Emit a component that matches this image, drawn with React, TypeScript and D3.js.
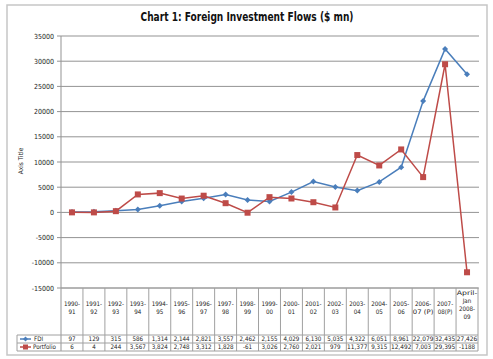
import React from "react";
import * as d3 from "d3";

const categories: string[][] = [
  ["1990-", "91"], ["1991-", "92"], ["1992-", "93"], ["1993-", "94"], ["1994-", "95"],
  ["1995-", "96"], ["1996-", "97"], ["1997-", "98"], ["1998-", "99"], ["1999-", "00"],
  ["2000-", "01"], ["2001-", "02"], ["2002-", "03"], ["2003-", "04"], ["2004-", "05"],
  ["2005-", "06"], ["2006-", "07 (P)"], ["2007-", "08(P)"], ["April-", "Jan", "2008-", "09"],
];
const fdi = [97, 129, 315, 586, 1314, 2144, 2821, 3557, 2462, 2155, 4029, 6130, 5035, 4322, 6051, 8961, 22079, 32435, 27426];
const portfolio = [6, 4, 244, 3567, 3824, 2748, 3312, 1828, -61, 3026, 2760, 2021, 979, 11377, 9315, 12492, 7003, 29395, -11880];
const fdiLabels = ["97", "129", "315", "586", "1,314", "2,144", "2,821", "3,557", "2,462", "2,155", "4,029", "6,130", "5,035", "4,322", "6,051", "8,961", "22,079", "32,435", "27,426"];
const portfolioLabels = ["6", "4", "244", "3,567", "3,824", "2,748", "3,312", "1,828", "-61", "3,026", "2,760", "2,021", "979", "11,377", "9,315", "12,492", "7,003", "29,395", "-1188"];
const yTicks = [-15000, -10000, -5000, 0, 5000, 10000, 15000, 20000, 25000, 30000, 35000];

const W = 493, H = 359;
const L = 61, R = 478, T = 36, B = 288;
const BLUE = "#4a7ebb", RED = "#be4b48", GRID = "#939393", TBL = "#a0a0a0";
const NARROW = "'Liberation Sans Narrow', 'Arial Narrow', 'DejaVu Sans Condensed', 'Liberation Sans', Arial, sans-serif";

export default function App() {
  const idx = categories.map((_, i) => String(i));
  const x = d3.scaleBand<string>().domain(idx).range([L, R]);
  const y = d3.scaleLinear().domain([-15000, 35000]).range([B, T]);
  const cx = (i: number) => (x(String(i)) as number) + x.bandwidth() / 2;
  const line = d3.line<number>().x((_, i) => cx(i)).y((d) => y(d));
  const hdrBottom = 335, row1 = 343, row2 = 351;
  const legL = 17;
  const fs = 6.2;
  const fit = (s: string) => (s.length >= 6 ? 20.5 : undefined);

  return (
    <svg width={W} height={H} style={{ position: "absolute", left: 0, top: 0, background: "#fff" }}>
      <rect x={7} y={5} width={480} height={350} fill="#fff" stroke="#c6c6c6" strokeWidth={1.5} />
      <text x={247} y={21} textAnchor="middle" fontFamily={NARROW} fontWeight="bold" fontSize={12.5}
        textLength={213} lengthAdjust="spacingAndGlyphs" fill="#111">
        Chart 1: Foreign Investment Flows ($ mn)
      </text>
      {yTicks.map((t) => (
        <g key={t}>
          <line x1={L} x2={479} y1={y(t)} y2={y(t)} stroke={GRID} strokeWidth={1} />
          <line x1={57} x2={L} y1={y(t)} y2={y(t)} stroke={GRID} strokeWidth={1} />
          <text x={54} y={y(t) + 2.5} textAnchor="end" fontFamily={NARROW} fontSize={7} fill="#222">{t}</text>
        </g>
      ))}
      <line x1={L} x2={L} y1={T} y2={row2} stroke={GRID} strokeWidth={1} />
      <text transform={`translate(23,161) rotate(-90)`} textAnchor="middle" fontFamily={NARROW} fontSize={6.5} fill="#222">Axis Title</text>

      <path d={line(fdi) || ""} fill="none" stroke={BLUE} strokeWidth={1.5} />
      {fdi.map((d, i) => (
        <path key={i} d={`M${cx(i)},${y(d) - 3}L${cx(i) + 3},${y(d)}L${cx(i)},${y(d) + 3}L${cx(i) - 3},${y(d)}Z`} fill={BLUE} />
      ))}
      <path d={line(portfolio) || ""} fill="none" stroke={RED} strokeWidth={1.5} />
      {portfolio.map((d, i) => (
        <rect key={i} x={cx(i) - 3} y={y(d) - 3} width={6} height={6} fill={RED} />
      ))}

      <line x1={L} x2={R} y1={B} y2={B} stroke={TBL} />
      <line x1={legL} x2={R} y1={hdrBottom} y2={hdrBottom} stroke={TBL} />
      <line x1={legL} x2={R} y1={row1} y2={row1} stroke={TBL} />
      <line x1={legL} x2={R} y1={row2} y2={row2} stroke={TBL} />
      <line x1={legL} x2={legL} y1={hdrBottom} y2={row2} stroke={TBL} />
      {idx.map((k) => {
        const x1 = (x(k) as number) + x.bandwidth();
        return <line key={k} x1={x1} x2={x1} y1={B} y2={row2} stroke={TBL} />;
      })}
      {categories.map((lines, i) => {
        const start = lines.length === 4 ? 294.5 : 305.5;
        return (
          <g key={i}>
            {lines.map((s, j) => (
              <text key={j} x={cx(i)} y={start + j * 8.2} textAnchor="middle" fontFamily={NARROW} fontSize={fs} fill="#222"
                textLength={fit(s)} lengthAdjust="spacingAndGlyphs">{s}</text>
            ))}
            <text x={cx(i)} y={hdrBottom + 6} textAnchor="middle" fontFamily={NARROW} fontSize={fs} fill="#222"
              textLength={fit(fdiLabels[i])} lengthAdjust="spacingAndGlyphs">{fdiLabels[i]}</text>
            <text x={cx(i)} y={row1 + 6} textAnchor="middle" fontFamily={NARROW} fontSize={fs} fill="#222"
              textLength={fit(portfolioLabels[i])} lengthAdjust="spacingAndGlyphs">{portfolioLabels[i]}</text>
          </g>
        );
      })}
      <line x1={20} x2={31} y1={(hdrBottom + row1) / 2} y2={(hdrBottom + row1) / 2} stroke={BLUE} strokeWidth={1.5} />
      <path d={`M25.5,${(hdrBottom + row1) / 2 - 2.5}l2.5,2.5l-2.5,2.5l-2.5,-2.5Z`} fill={BLUE} />
      <text x={34} y={hdrBottom + 6} fontFamily={NARROW} fontSize={fs} fill="#222">FDI</text>
      <line x1={20} x2={31} y1={(row1 + row2) / 2} y2={(row1 + row2) / 2} stroke={RED} strokeWidth={1.5} />
      <rect x={23} y={(row1 + row2) / 2 - 2.5} width={5} height={5} fill={RED} />
      <text x={33} y={row1 + 6} fontFamily={NARROW} fontSize={fs} fill="#222">Portfolio</text>
    </svg>
  );
}
